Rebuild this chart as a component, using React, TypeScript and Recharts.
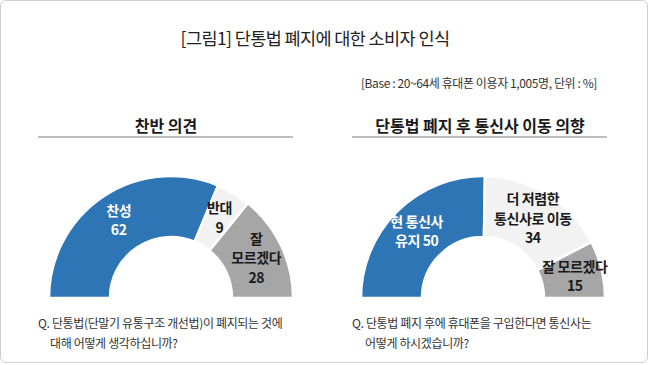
import { PieChart, Pie, Cell } from 'recharts';

// 찬반 의견
const leftCategories = ['찬성', '반대', '잘\n모르겠다'];
const leftValues = [62, 9, 28];

// 단통법 폐지 후 통신사 이동 의향
const rightCategories = ['현 통신사\n유지', '더 저렴한\n통신사로 이동', '잘 모르겠다'];
const rightValues = [50, 34, 15];
const rightValueInline = [true, false, false];

const sliceColors = ['#2e75b6', '#f2f2f2', '#a6a6a6'];
const labelColors = ['#ffffff', '#1a1a1a', '#1a1a1a'];

const FONT = '"Noto Sans CJK KR", "Noto Sans", sans-serif';
const RAD = Math.PI / 180;

const makeLabel = (inline: boolean[]) => (props: any) => {
    const { cx, cy, midAngle, innerRadius, outerRadius, index, payload } = props;
    const r = (innerRadius + outerRadius) / 2 + 3;
    const x = cx + r * Math.cos(-midAngle * RAD);
    const y = cy + r * Math.sin(-midAngle * RAD);
    const lines: string[] = String(payload.name).split('\n');
    if (inline[index]) {
        lines[lines.length - 1] = `${lines[lines.length - 1]} ${payload.value}`;
    } else {
        lines.push(String(payload.value));
    }
    const lh = 19.5;
    const y0 = y - ((lines.length - 1) * lh) / 2;
    return (
        <text
            x={x}
            y={y0}
            textAnchor="middle"
            dominantBaseline="central"
            fill={labelColors[index]}
            style={{ fontFamily: FONT, fontSize: 14, fontWeight: 700, letterSpacing: -0.4 }}
        >
            {lines.map((ln, i) => (
                <tspan key={i} x={x} dy={i === 0 ? 0 : lh}>{ln}</tspan>
            ))}
        </text>
    );
};

function HalfDonut({ names, values, inline, left }: { names: string[]; values: number[]; inline: boolean[]; left: number }) {
    const data = names.map((name, i) => ({ name, value: values[i] }));
    return (
        <div style={{ position: 'absolute', left, top: 160 }}>
            <PieChart width={300} height={140}>
                <Pie
                    data={data}
                    dataKey="value"
                    nameKey="name"
                    cx={150}
                    cy={133}
                    startAngle={180}
                    endAngle={0}
                    innerRadius={61}
                    outerRadius={122}
                    stroke="#ffffff"
                    strokeWidth={2.5}
                    labelLine={false}
                    label={makeLabel(inline)}
                    isAnimationActive={false}
                >
                    {data.map((_, i) => (
                        <Cell key={i} fill={sliceColors[i]} />
                    ))}
                </Pie>
            </PieChart>
        </div>
    );
}

const sectionTitle = (text: string, center: number, x1: number, x2: number) => (
    <>
        <div style={{
            position: 'absolute', left: center - 150, width: 300, top: 114, textAlign: 'center',
            fontFamily: FONT, fontSize: 16, fontWeight: 700, color: '#1a1a1a', lineHeight: '22px',
        }}>{text}</div>
        <div style={{ position: 'absolute', left: x1, width: x2 - x1, top: 136, height: 2, background: '#bfbfbf' }} />
    </>
);

const questionStyle: React.CSSProperties = {
    position: 'absolute', top: 313, fontFamily: FONT, fontSize: 12, color: '#333',
    letterSpacing: -0.35, lineHeight: '20px', whiteSpace: 'nowrap',
};

export default function App() {
    return (
        <div style={{ position: 'absolute', left: 0, top: 0, width: 650, height: 365, background: '#fff', overflow: 'hidden' }}>
            <div style={{
                position: 'absolute', left: 0, top: 0, width: 648, height: 363, boxSizing: 'border-box',
                border: '1px solid #cfcfcf', borderRadius: 6,
            }} />
            <div style={{
                position: 'absolute', left: 0, width: 630, top: 26, textAlign: 'center',
                fontFamily: FONT, fontSize: 17.5, color: '#222', letterSpacing: -0.6, lineHeight: '24px',
            }}>[그림1] 단통법 폐지에 대한 소비자 인식</div>
            <div style={{
                position: 'absolute', right: 650 - 597, top: 75, textAlign: 'right',
                fontFamily: FONT, fontSize: 12, color: '#333', letterSpacing: -0.4, lineHeight: '16px', whiteSpace: 'nowrap',
            }}>[Base : 20~64세 휴대폰 이용자 1,005명, 단위 : %]</div>

            {sectionTitle('찬반 의견', 166, 38, 293)}
            {sectionTitle('단통법 폐지 후 통신사 이동 의향', 480, 352, 607)}

            <HalfDonut names={leftCategories} values={leftValues} inline={[false, false, false]} left={16} />
            <HalfDonut names={rightCategories} values={rightValues} inline={rightValueInline} left={328} />

            <div style={{ ...questionStyle, left: 38 }}>
                Q. 단통법(단말기 유통구조 개선법)이 폐지되는 것에<br />
                <span style={{ paddingLeft: 12 }}>대해 어떻게 생각하십니까?</span>
            </div>
            <div style={{ ...questionStyle, left: 352 }}>
                Q. 단통법 폐지 후에 휴대폰을 구입한다면 통신사는<br />
                <span style={{ paddingLeft: 13 }}>어떻게 하시겠습니까?</span>
            </div>
        </div>
    );
}
